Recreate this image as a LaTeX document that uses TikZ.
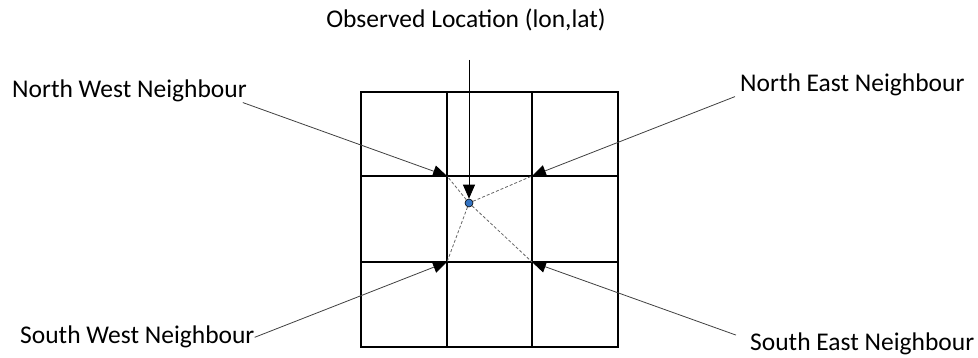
\documentclass[tikz,border=0pt]{standalone}
\usepackage{fontspec}
\setmainfont{Carlito}
\usetikzlibrary{arrows.meta}
\begin{document}
\begin{tikzpicture}[x=1pt,y=-1pt,
  lbl/.style={inner sep=0pt,font=\fontsize{25.5}{30}\selectfont},
  ptr/.style={draw=black!75,line width=0.8pt,-{Triangle[length=14pt,width=12pt,color=black]}},
  link/.style={draw=black!60,line width=0.8pt,densely dashed}]
\useasboundingbox (0,0) rectangle (978,358);
% grid
\draw[line width=1.6pt] (361,92) rectangle (618,347);
\foreach \x in {447,532} \draw[line width=1.6pt] (\x,92) -- (\x,347);
\foreach \y in {176,262} \draw[line width=1.6pt] (361,\y) -- (618,\y);
\coordinate (nwc) at (447,176);
\coordinate (nec) at (532,176);
\coordinate (swc) at (447,262);
\coordinate (sec) at (532,262);
% observed point
\node[circle,draw,fill=blue!55!cyan!70!black!80,inner sep=0pt,minimum size=8pt,line width=0.6pt] (obs) at (469,203) {};
\node[lbl,anchor=base] (obstxt) at (466,28) {Observed Location (lon,lat)};
\coordinate (obstop) at (469,60);
% labels
\node[lbl,anchor=base west] (nwtxt) at (12,98) {North West Neighbour};
\node[lbl,anchor=base west] (netxt) at (740,92) {North East Neighbour};
\node[lbl,anchor=base west] (swtxt) at (20,344) {South West Neighbour};
\node[lbl,anchor=base west] (setxt) at (750,351) {South East Neighbour};
% pointers
\draw[ptr] ([xshift=-4pt]nwtxt.south east) -- (nwc);
\draw[ptr] ([xshift=-5pt]netxt.south west) -- (nec);
\draw[ptr] ([xshift=0pt]swtxt.east) -- (swc);
\draw[ptr] ([xshift=-14pt,yshift=-2pt]setxt.north west) -- (sec);
\draw[ptr,draw=black] (obstop) -- (obs.north);
% links to corners
\foreach \c in {nwc,nec,swc,sec} \draw[link] (obs) -- (\c);
\end{tikzpicture}
\end{document}
